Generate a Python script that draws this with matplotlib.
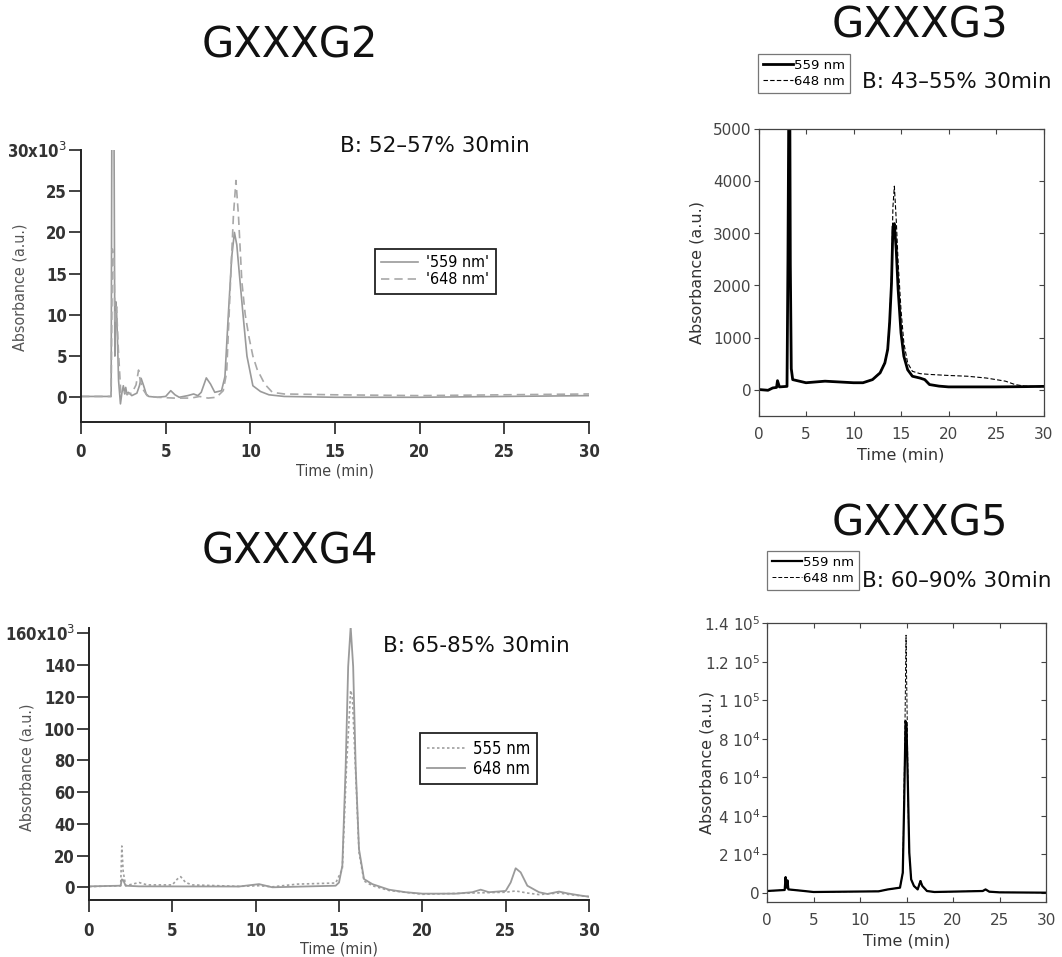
import matplotlib
matplotlib.use('Agg')
import matplotlib.pyplot as plt
from matplotlib.lines import TICKLEFT

# ---------------- data ----------------
# GXXXG2 (absorbance in units of 10^3)
g2_t_559 = [0, 1.0, 1.78, 1.82, 1.95, 2.0, 2.05, 2.1, 2.15, 2.22, 2.33, 2.42, 2.5, 2.58, 2.64, 2.72, 2.8, 3.0, 3.3, 3.45, 3.55,
            3.7, 3.85, 4.0, 4.5, 5.0, 5.3, 5.55, 5.8, 6.3, 6.65, 6.9, 7.1, 7.4, 7.65, 7.9, 8.3, 8.5, 8.7, 8.9, 9.06, 9.2,
            9.35, 9.57, 9.8, 10.15, 10.6, 11.1, 12, 15, 20, 25, 30]
g2_v_559 = [0.1, 0.1, 0.1, 32, 32, 5, 11.6, 10.5, 7.3, 2.0, -0.8, 0.6, 1.4, 0.4, 1.2, 0.3, 0.6, 0.2, 0.5, 1.4, 2.3,
            1.4, 0.4, 0.1, 0.0, 0.1, 0.8, 0.3, 0.0, 0.2, 0.4, 0.2, 0.6, 2.35, 1.6, 0.6, 0.8, 2.5, 10, 17, 20, 18.5,
            15, 10, 5, 1.4, 0.7, 0.3, 0.1, 0.0, 0.0, 0.1, 0.2]
g2_t_648 = [0, 1.0, 1.78, 1.85, 1.95, 2.0, 2.1, 2.2, 2.35, 2.5, 2.7, 3.0, 3.25, 3.4, 3.5, 3.65, 3.9, 4.5, 5.5, 6.5, 7.0,
            7.5, 8.0, 8.4, 8.6, 8.87, 9.0, 9.15, 9.3, 9.5, 9.7, 9.92, 10.15, 10.4, 10.85, 11.3, 12, 15, 20, 25, 30]
g2_v_648 = [0.1, 0.1, 0.1, 18, 17, 9, 11, 6, 0.5, 0.8, 0.4, 0.5, 1.5, 3.3, 2.0, 1.0, 0.2, 0.0, -0.1, -0.1, 0.1,
            -0.1, 0.0, 0.8, 3, 16, 22, 26.3, 22, 14, 10, 7.3, 5, 3.4, 1.6, 0.6, 0.4, 0.3, 0.2, 0.3, 0.4]

# GXXXG3
g3_t_559 = [0, 1.0, 1.5, 1.9, 2.0, 2.2, 3.0, 3.1, 3.18, 3.3, 3.35, 3.45, 3.6, 5, 7, 10, 11, 12, 12.8, 13.3, 13.6, 13.8,
            14.0, 14.15, 14.3, 14.5, 14.7, 15.0, 15.3, 15.7, 16.2, 17, 17.5, 18, 19, 20, 25, 28, 30]
g3_v_559 = [0, -15, 30, 40, 170, 50, 60, 2500, 5200, 5200, 2400, 400, 190, 130, 160, 130, 130, 190, 320, 510, 770, 1280,
            2040, 3130, 3190, 2680, 1920, 1090, 640, 380, 255, 220, 190, 95, 65, 50, 50, 55, 60]
g3_t_648 = [0, 1.0, 1.5, 1.9, 2.0, 2.2, 3.0, 3.1, 3.18, 3.3, 3.35, 3.45, 3.6, 5, 7, 10, 11, 12, 12.8, 13.3, 13.6, 13.8,
            14.0, 14.15, 14.3, 14.5, 14.7, 15.0, 15.3, 15.7, 16.2, 17, 18, 20, 22, 24, 26, 27, 28, 30]
g3_v_648 = [0, -15, 30, 40, 170, 50, 60, 2500, 5200, 5200, 2400, 400, 190, 130, 160, 130, 130, 190, 330, 530, 800, 1350,
            2200, 3510, 3910, 3260, 2430, 1530, 895, 510, 350, 305, 290, 270, 255, 220, 160, 95, 65, 50]

# GXXXG4 (absorbance in units of 10^3)
g4_t_555 = [0, 1.9, 1.97, 2.05, 2.2, 3.0, 3.5, 5.0, 5.3, 5.5, 5.8, 6.2, 9, 10.2, 11, 12.5, 14.8, 15.2, 15.45, 15.7,
            15.8, 16.0, 16.2, 16.5, 17, 18, 20, 23, 25, 25.6, 26.3, 27, 28.2, 29, 30]
g4_v_555 = [0.4, 1.0, 26, 10, 1.0, 3.0, 1.5, 1.5, 5.2, 6.7, 3.0, 1.5, 0.6, 1.0, 0.3, 2.0, 2.7, 11.5, 76, 124,
            120, 72, 22, 4, 1, -2, -4.4, -3.6, -3.1, -2.3, -3.6, -4.6, -3.6, -4.8, -5.9]
g4_t_648 = [0, 1.9, 1.97, 2.05, 2.2, 3, 9, 10.2, 11, 14.8, 15.0, 15.2, 15.4, 15.55, 15.7, 15.85, 16.0, 16.2, 16.5, 17,
            18, 19, 20, 22, 23, 23.5, 24, 25, 25.3, 25.6, 25.9, 26.3, 27, 27.5, 28.2, 28.7, 29.5, 30]
g4_v_648 = [0.6, 1.0, 5, 4.5, 1.0, 0.6, 0.5, 2.0, 0.0, 1.0, 3, 13.6, 76, 139, 164, 139, 76, 24, 5.2, 2,
            -1.5, -3.1, -4, -4, -3.1, -1.5, -3.1, -2.3, 3, 12, 9.4, 1, -3.1, -4.2, -2.7, -3.8, -5.2, -5.9]

# GXXXG5
g5_t_559 = [0, 1.9, 2.0, 2.1, 2.2, 2.3, 4, 5, 12, 13, 14.3, 14.6, 14.75, 14.9, 15.0, 15.15, 15.3, 15.5, 15.8, 16.2,
            16.5, 16.7, 17.2, 18, 23.2, 23.5, 23.9, 25, 30]
g5_v_559 = [870, 1400, 8100, 2600, 6400, 1700, 870, 350, 700, 1700, 2600, 10400, 46800, 89200, 86600, 55400, 20800,
            6900, 3500, 1700, 6000, 3500, 870, 350, 870, 1700, 520, 170, 0]
g5_t_648 = [0, 1.9, 2.0, 2.1, 2.2, 2.3, 4, 5, 12, 13, 14.3, 14.6, 14.8, 14.95, 15.1, 15.2, 15.3, 15.5, 15.8, 16.2,
            16.5, 16.7, 17.2, 18, 23.2, 23.5, 23.9, 25, 30]
g5_v_648 = [870, 1400, 7000, 2600, 5500, 1700, 870, 350, 700, 1700, 2600, 10400, 72800, 133800, 81500, 38000, 20800,
            6900, 3500, 1700, 6900, 3500, 870, 350, 870, 1700, 520, 170, 0]

titles = ['GXXXG2', 'GXXXG3', 'GXXXG4', 'GXXXG5']
gradients = ['B: 52\u201357% 30min', 'B: 43\u201355% 30min', 'B: 65-85% 30min', 'B: 60\u201390% 30min']
x_ticks = [0, 5, 10, 15, 20, 25, 30]
g2_yticks = [0, 5, 10, 15, 20, 25, 30]
g2_ylabels = ['0', '5', '10', '15', '20', '25', '30x10$^{3}$']
g3_yticks = [0, 1000, 2000, 3000, 4000, 5000]
g4_yticks = [0, 20, 40, 60, 80, 100, 120, 140, 160]
g4_ylabels = ['0', '20', '40', '60', '80', '100', '120', '140', '160x10$^{3}$']
g5_yticks = [0, 20000, 40000, 60000, 80000, 100000, 120000, 140000]
g5_ylabels = ['0', '2 10$^{4}$', '4 10$^{4}$', '6 10$^{4}$', '8 10$^{4}$', '1 10$^{5}$', '1.2 10$^{5}$', '1.4 10$^{5}$']

# ---------------- layout helpers ----------------
W, H = 1062, 957
fig = plt.figure(figsize=(W / 100, H / 100), dpi=100)


def ax_at(x0, x1, y0, y1):
    return fig.add_axes([x0 / W, 1 - y1 / H, (x1 - x0) / W, (y1 - y0) / H])


def fx(x):
    return x / W


def fy(y):
    return 1 - y / H


NARROW = ['DejaVu Sans']
THIN = ['DejaVu Sans']
TXT = ['DejaVu Sans']
GREY = '#9a9a9a'

# ---------------- Igor-style panels (GXXXG2, GXXXG4) ----------------


def igor_axes(ax, yticks, ylabels, ylim):
    for s in ['top', 'right']:
        ax.spines[s].set_visible(False)
    for s in ['left', 'bottom']:
        ax.spines[s].set_linewidth(1.4)
        ax.spines[s].set_color('#222222')
    ax.set_xlim(0, 30)
    ax.set_ylim(*ylim)
    ax.set_xticks(x_ticks)
    ax.set_yticks(yticks)
    ax.set_yticklabels(ylabels)
    ax.tick_params(axis='both', direction='out', length=8.5, width=1.2, color='#222222')
    ax.tick_params(axis='x', pad=6.5)
    ax.tick_params(axis='y', pad=1.5)
    for lab in ax.get_xticklabels() + ax.get_yticklabels():
        lab.set_family(NARROW)
        lab.set_stretch('condensed')
        lab.set_fontsize(12)
        lab.set_fontweight('bold')
        lab.set_color('#333333')
    ax.patch.set_alpha(0)


def igor_legend(ax, x, y, size):
    leg = ax.legend(loc='upper left', bbox_to_anchor=(fx(x), fy(y)), bbox_transform=fig.transFigure,
                    borderaxespad=0, fancybox=False, edgecolor='#222222', framealpha=1,
                    prop={'family': NARROW, 'size': size, 'stretch': 'condensed'},
                    handlelength=2.3, handletextpad=0.5, borderpad=0.4, labelspacing=0.12)
    leg.get_frame().set_linewidth(1.3)
    return leg


ax1 = ax_at(81, 589, 150, 422)
ax1.plot(g2_t_559, g2_v_559, color=GREY, lw=1.2, label="'559 nm'")
ax1.plot(g2_t_648, g2_v_648, color='#a8a8a8', lw=1.2, ls=(0, (5, 3)), label="'648 nm'")
igor_axes(ax1, g2_yticks, g2_ylabels, (-3, 30))
igor_legend(ax1, 375, 249, 11.5)
fig.text(fx(20), fy(287), 'Absorbance (a.u.)', rotation=90, ha='center', va='center',
         family=NARROW, stretch='condensed', fontsize=11.5, color='#555555')
fig.text(fx(335), fy(471), 'Time (min)', ha='center', va='center', family=NARROW, stretch='condensed',
         fontsize=11.5, color='#444444')

ax3 = ax_at(89, 589, 628, 900)
ax3.plot(g4_t_555, g4_v_555, color='#a0a0a0', lw=1.2, ls=(0, (1.5, 1.5)), label='555 nm')
ax3.plot(g4_t_648, g4_v_648, color=GREY, lw=1.3, label='648 nm')
igor_axes(ax3, g4_yticks, g4_ylabels, (-8, 163.3))
ax3.tick_params(axis='x', pad=7.5)
igor_legend(ax3, 420, 733, 12)
fig.text(fx(27), fy(767), 'Absorbance (a.u.)', rotation=90, ha='center', va='center',
         family=NARROW, stretch='condensed', fontsize=11.5, color='#555555')
fig.text(fx(339), fy(949), 'Time (min)', ha='center', va='center', family=NARROW, stretch='condensed',
         fontsize=11.5, color='#444444')

# ---------------- Kaleidagraph-style panels (GXXXG3, GXXXG5) ----------------


def box_axes(ax, yticks, ylabels, ylim):
    for s in ax.spines.values():
        s.set_linewidth(0.9)
        s.set_color('#444444')
    ax.set_xlim(0, 30)
    ax.set_ylim(*ylim)
    ax.set_xticks(x_ticks)
    ax.set_yticks(yticks)
    if ylabels is not None:
        ax.set_yticklabels(ylabels)
    ax.tick_params(axis='x', direction='in', top=True, length=3.5, width=0.8, color='#444444', pad=8)
    ax.tick_params(axis='y', direction='out', right=True, length=3.5, width=0.8, color='#444444', pad=1.5)
    for lab in ax.get_xticklabels() + ax.get_yticklabels():
        lab.set_family(THIN)
        lab.set_fontsize(11)
        lab.set_color('#444444')
    # right-side ticks point inward
    for t in ax.yaxis.get_major_ticks():
        t.tick2line.set_marker(TICKLEFT)
    ax.patch.set_alpha(0)


def box_legend(ax, x, y):
    h, l = ax.get_legend_handles_labels()
    leg = ax.legend(h[::-1], l[::-1], loc='upper left', bbox_to_anchor=(fx(x), fy(y)),
                    bbox_transform=fig.transFigure, borderaxespad=0, fancybox=False, edgecolor='#777777',
                    framealpha=1, prop={'family': THIN, 'size': 9.5}, handlelength=2.3, handletextpad=0.1,
                    borderpad=0.35, labelspacing=0.25)
    leg.get_frame().set_linewidth(0.9)
    return leg


ax2 = ax_at(758.5, 1043.5, 129.5, 415.5)
ax2.plot(g3_t_648, g3_v_648, color='black', lw=0.8, ls=(0, (4, 2)), label='648 nm')
ax2.plot(g3_t_559, g3_v_559, color='black', lw=2.0, label='559 nm')
box_axes(ax2, g3_yticks, None, (-500, 5000))
box_legend(ax2, 758, 54)
fig.text(fx(697), fy(273), 'Absorbance (a.u.)', rotation=90, ha='center', va='center',
         family=THIN, fontsize=11.5, color='#333333')
fig.text(fx(901), fy(455), 'Time (min)', ha='center', va='center', family=THIN, fontsize=11.5, color='#333333')

ax4 = ax_at(767, 1046, 623.3, 902.3)
ax4.plot(g5_t_648, g5_v_648, color='black', lw=0.7, ls=(0, (4, 2)), label='648 nm')
ax4.plot(g5_t_559, g5_v_559, color='black', lw=1.6, label='559 nm')
box_axes(ax4, g5_yticks, g5_ylabels, (-5000, 140000))
box_legend(ax4, 767, 551)
fig.text(fx(707), fy(763), 'Absorbance (a.u.)', rotation=90, ha='center', va='center',
         family=THIN, fontsize=11.5, color='#333333')
fig.text(fx(907), fy(941), 'Time (min)', ha='center', va='center', family=THIN, fontsize=11.5, color='#333333')

# ---------------- titles and gradient notes ----------------
title_pos = [(290, 58), (920, 37), (290, 564), (920, 535)]
for t, (x, y) in zip(titles, title_pos):
    fig.text(fx(x), fy(y), t, ha='center', va='baseline', family=TXT, fontsize=30, color='#111111')

grad_pos = [(340, 152), (862, 88), (383, 652), (862, 587)]
for g, (x, y) in zip(gradients, grad_pos):
    fig.text(fx(x), fy(y), g, ha='left', va='baseline', family=TXT, fontsize=15.5, color='#111111')

fig.savefig('out.png', dpi=100)
